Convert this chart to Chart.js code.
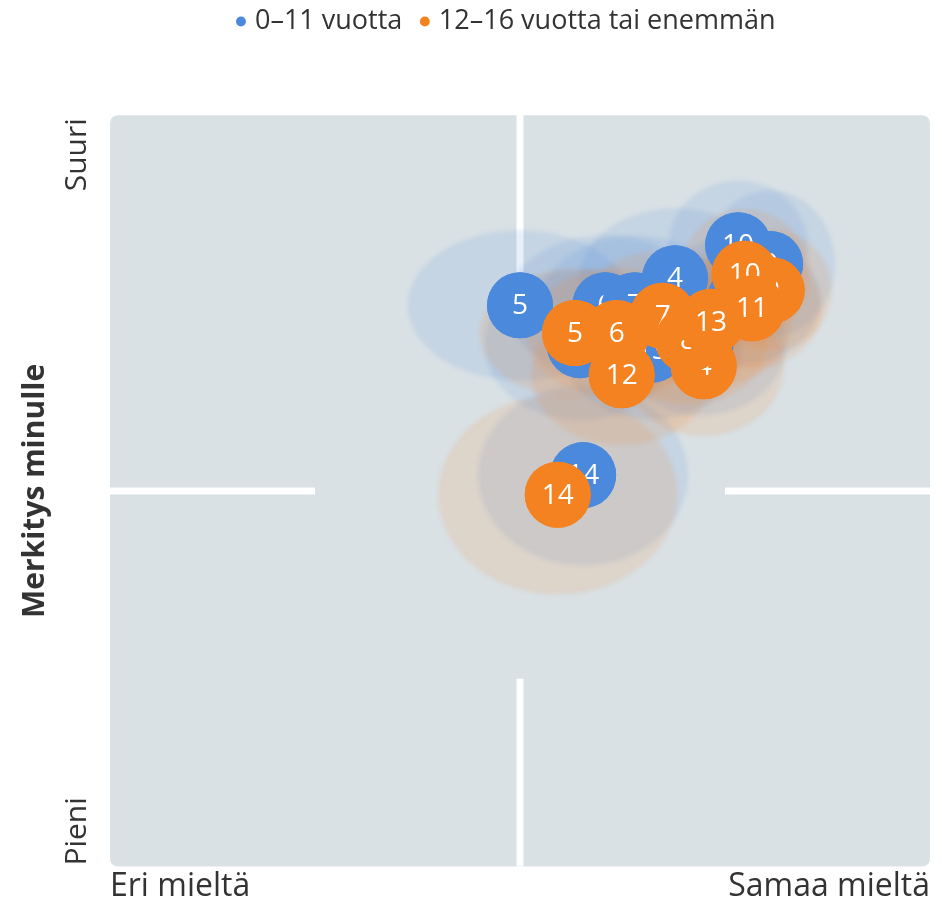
<!DOCTYPE html>
<html><head><meta charset="utf-8">
<script src="https://cdn.jsdelivr.net/npm/chart.js@4/dist/chart.umd.min.js"></script>
<style>html,body{margin:0;padding:0;background:#fff}#wrap{width:942px;height:904px}</style>
</head><body><div id="wrap"><canvas id="c" width="942" height="904"></canvas></div>
<script>
// ---- data ----
const seriesNames = ['0–11 vuotta', '12–16 vuotta tai enemmän'];
const itemLabels = ['4', '5', '6', '7', '8', '9', '10', '11', '12', '13', '14'];
// series 1: 0–11 vuotta
const blueX = [68.9, 50.0, 60.4, 64.0, 76.8, 80.5, 76.6, 72.0, 57.3, 66.1, 57.7];
const blueY = [78.3, 74.7, 74.7, 74.7, 75.4, 80.2, 82.7, 69.4, 69.4, 68.8, 52.1];
const blueSpreadX = [11.6, 13.7, 12.2, 11.6, 9.8, 7.9, 8.5, 10.4, 11.6, 11.0, 12.8];
const blueSpreadY = [9.3, 10.0, 9.3, 9.3, 8.6, 9.8, 8.6, 9.3, 10.0, 9.3, 12.0];
// series 2: 12–16 vuotta tai enemmän
const orangeX = [72.4, 56.7, 61.8, 67.4, 70.5, 80.7, 77.4, 78.3, 62.4, 73.3, 54.6];
const orangeY = [66.6, 71.0, 71.0, 73.3, 70.1, 76.7, 78.9, 74.3, 65.4, 72.5, 49.5];
const orangeSpreadX = [9.8, 11.6, 11.0, 10.4, 9.8, 7.3, 7.9, 8.5, 11.0, 9.8, 14.6];
const orangeSpreadY = [9.3, 8.6, 8.6, 8.6, 8.6, 8.0, 8.6, 8.0, 9.3, 8.6, 13.3];
// axis texts
const xTickLabels = ['Eri mieltä', 'Samaa mieltä'];
const yTickLabels = ['Pieni', 'Suuri'];
const yTitle = 'Merkitys minulle';

// ---- styles ----
const FONT = "'Open Sans', 'DejaVu Sans', sans-serif";
const BLUE = '#4a89dc';
const ORANGE = '#f58220';
const TEXT = '#333333';
const PLOT_BG = '#d9e1e5';
const spreads = [[blueSpreadX, blueSpreadY], [orangeSpreadX, orangeSpreadY]];

function rgba(hex, a) {
  const n = parseInt(hex.slice(1), 16);
  return `rgba(${(n >> 16) & 255},${(n >> 8) & 255},${n & 255},${a})`;
}

const backdropPlugin = {
  id: 'backdrop',
  beforeDatasetsDraw(chart) {
    const {ctx, chartArea: a, scales: {x, y}} = chart;
    ctx.save();
    ctx.fillStyle = PLOT_BG;
    ctx.beginPath();
    ctx.roundRect(a.left, a.top, a.width, a.height, 8);
    ctx.fill();
    // quadrant divider segments
    ctx.strokeStyle = '#ffffff';
    ctx.lineWidth = 7;
    const segs = [
      [0, 50, 25, 50], [75, 50, 100, 50],
      [50, 0, 50, 25], [50, 75, 50, 100]
    ];
    segs.forEach(([x0, y0, x1, y1]) => {
      ctx.beginPath();
      ctx.moveTo(x.getPixelForValue(x0), y.getPixelForValue(y0));
      ctx.lineTo(x.getPixelForValue(x1), y.getPixelForValue(y1));
      ctx.stroke();
    });
    // spread ellipses
    ctx.beginPath();
    ctx.rect(a.left, a.top, a.width, a.height);
    ctx.clip();
    ctx.filter = 'blur(2px)';
    chart.data.datasets.forEach((ds, di) => {
      const [sx, sy] = spreads[di];
      ctx.fillStyle = rgba(ds.backgroundColor, 0.135);
      ds.data.forEach((p, i) => {
        const cx = x.getPixelForValue(p.x), cy = y.getPixelForValue(p.y);
        const rx = Math.abs(x.getPixelForValue(p.x + sx[i]) - cx);
        const ry = Math.abs(y.getPixelForValue(p.y + sy[i]) - cy);
        ctx.beginPath();
        ctx.ellipse(cx, cy, rx, ry, 0, 0, Math.PI * 2);
        ctx.fill();
      });
    });
    ctx.restore();
  }
};

const bubbleLabelPlugin = {
  id: 'bubbleLabels',
  afterDatasetDraw(chart, args) {
    const {ctx, chartArea} = chart;
    const meta = args.meta;
    ctx.save();
    meta.data.forEach((el, i) => {
      el.draw(ctx, chartArea);
      ctx.font = `28px ${FONT}`;
      ctx.fillStyle = '#ffffff';
      ctx.textAlign = 'center';
      ctx.textBaseline = 'middle';
      ctx.fillText(itemLabels[i], el.x, el.y + 1);
    });
    ctx.restore();
  }
};

const yLabelPlugin = {
  id: 'yEndLabels',
  afterDraw(chart) {
    const {ctx, chartArea: a} = chart;
    ctx.save();
    ctx.font = `30px ${FONT}`;
    ctx.fillStyle = TEXT;
    ctx.textBaseline = 'alphabetic';
    ctx.save();
    ctx.translate(a.left - 24, a.top + 3);
    ctx.rotate(-Math.PI / 2);
    ctx.textAlign = 'right';
    ctx.fillText(yTickLabels[1], 0, 0);
    ctx.restore();
    ctx.save();
    ctx.translate(a.left - 24, a.bottom - 1);
    ctx.rotate(-Math.PI / 2);
    ctx.textAlign = 'left';
    ctx.fillText(yTickLabels[0], 0, 0);
    ctx.restore();
    ctx.restore();
  }
};

const toPoints = (xs, ys) => xs.map((v, i) => ({x: v, y: ys[i]}));

new Chart(document.getElementById('c'), {
  type: 'scatter',
  data: {
    datasets: [
      {label: seriesNames[0], data: toPoints(blueX, blueY), backgroundColor: BLUE, order: 2,
       borderWidth: 0, pointRadius: 33, pointHoverRadius: 33},
      {label: seriesNames[1], data: toPoints(orangeX, orangeY), backgroundColor: ORANGE, order: 1,
       borderWidth: 0, pointRadius: 33, pointHoverRadius: 33}
    ]
  },
  options: {
    responsive: false,
    animation: false,
    devicePixelRatio: 1,
    layout: {autoPadding: false, padding: {top: -14, left: 86, right: 12, bottom: -3}},
    scales: {
      x: {
        type: 'linear', min: 0, max: 100,
        grid: {display: false, drawTicks: false},
        border: {display: false},
        afterBuildTicks: (s) => { s.ticks = [{value: 0}, {value: 100}]; },
        afterFit: (s) => { s.paddingLeft = 0; s.paddingRight = 0; },
        ticks: {
          callback: (v, i) => xTickLabels[i],
          align: 'inner', padding: 1, maxRotation: 0, minRotation: 0, autoSkip: false,
          font: {size: 32, family: FONT}, color: TEXT
        }
      },
      y: {
        type: 'linear', min: 0, max: 100,
        grid: {display: false, drawTicks: false},
        border: {display: false},
        ticks: {display: false},
        afterFit: (s) => { s.width = 24; },
        title: {
          display: true, text: yTitle, color: TEXT,
          font: {size: 30, weight: 'bold', family: FONT},
          padding: {top: -69, bottom: 0}
        }
      }
    },
    plugins: {
      tooltip: {enabled: false},
      legend: {
        position: 'top',
        labels: {
          usePointStyle: true, pointStyle: 'circle', boxWidth: 1, boxHeight: 7,
          padding: 22, font: {size: 27, family: FONT}, color: TEXT,
          sort: (a, b) => a.datasetIndex - b.datasetIndex
        }
      },
      title: {
        display: true, text: '', weight: 500, position: 'top',
        font: {size: 1}, padding: {top: 0, bottom: 69}
      }
    }
  },
  plugins: [backdropPlugin, bubbleLabelPlugin, yLabelPlugin]
});
</script>
</body></html>
